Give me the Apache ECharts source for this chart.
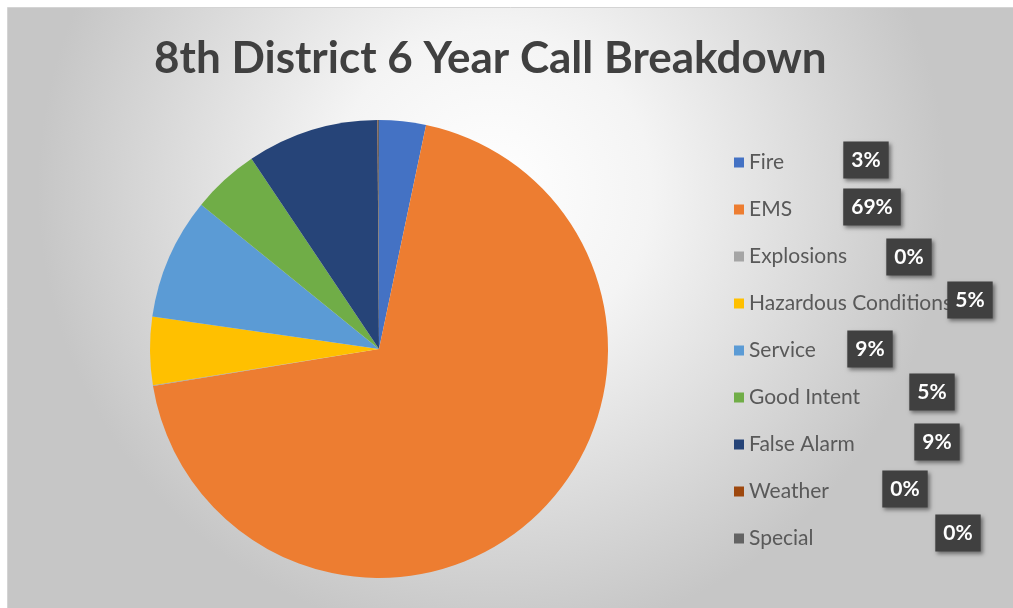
<!DOCTYPE html>
<html>
<head>
<meta charset="utf-8">
<script src="https://cdn.jsdelivr.net/npm/echarts@6/dist/echarts.min.js"></script>
<style>
html,body{margin:0;padding:0;background:#fff;}
#chart{width:1013px;height:608px;}
</style>
</head>
<body>
<div id="chart"></div>
<script>
// ---- data ----
var categories = ['Fire','EMS','Explosions','Hazardous Conditions','Service','Good Intent','False Alarm','Weather','Special'];
var values = [3.3, 69.2, 0.05, 4.8, 8.6, 4.75, 9.3, 0.03, 0.08];
var colors = ['#4472C4','#ED7D31','#A5A5A5','#FFC000','#5B9BD5','#70AD47','#264478','#9E480E','#636363'];
var titleText = '8th District 6 Year Call Breakdown';
// ---- layout for the data-label boxes (centers) ----
var labelPos = [[866,160],[872,207],[909,257],[970,300],[870,349],[932,392],[937,442],[905,489],[958,533]];

var chart = echarts.init(document.getElementById('chart'));
var data = categories.map(function(c,i){return {name:c,value:values[i],itemStyle:{color:colors[i]}};});
chart.setOption({
  animation:false,
  graphic:[{type:'rect',z:-10,silent:true,shape:{x:7.5,y:7.5,width:1010,height:605},
    style:{stroke:'#d4d4d4',lineWidth:1,fill:{type:'radial',x:0.48,y:0.3,r:0.75,colorStops:[{offset:0,color:'#ffffff'},{offset:0.35,color:'#f4f4f4'},{offset:1,color:'#c6c6c6'}]}}}],
  title:{text:titleText,left:149,top:32,textStyle:{fontFamily:'Lato',fontWeight:'bold',fontSize:44,color:'#404040'}},
  legend:{orient:'vertical',left:729,top:147,itemWidth:10,itemHeight:10,itemGap:26,icon:'rect',
    textStyle:{fontFamily:'Lato',fontSize:21,color:'#595959',lineHeight:21},data:categories},
  series:[{type:'pie',z:10,center:[379,349],radius:229,startAngle:90,clockwise:true,
    percentPrecision:0,data:data,
    label:{show:true,position:'outside',formatter:'{d}%',fontFamily:'Lato',fontWeight:'bold',fontSize:21,color:'#ffffff',
      backgroundColor:'#404040',padding:[6,8,6,8],lineHeight:25,
      shadowBlur:4,shadowColor:'rgba(0,0,0,0.45)',shadowOffsetX:2,shadowOffsetY:2},
    labelLine:{show:false},
    emphasis:{disabled:true},
    labelLayout:function(p){var q=labelPos[p.dataIndex];return {x:q[0],y:q[1],align:'center',verticalAlign:'middle',hideOverlap:false};}
  }]
});
</script>
</body>
</html>
